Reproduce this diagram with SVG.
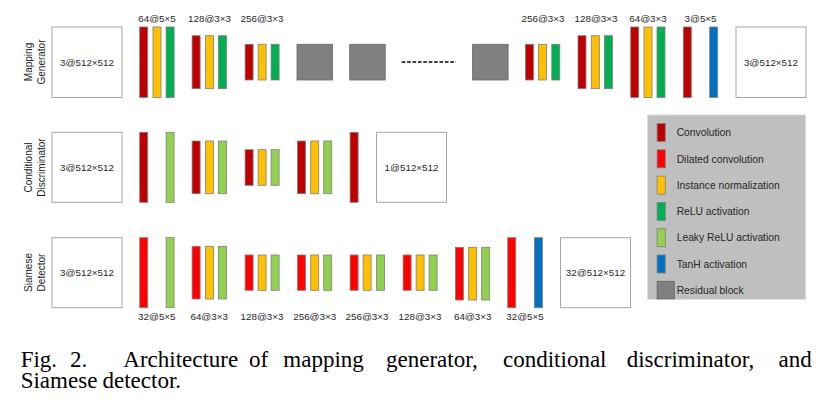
<svg xmlns="http://www.w3.org/2000/svg" width="826" height="403" viewBox="0 0 826 403">
<style>
text{font-family:"Liberation Sans",Arial,sans-serif;fill:#262626}
.lbl{font-size:9.8px;text-anchor:middle}
.row{font-size:10px;text-anchor:middle;fill:#1a1a1a}
.leg{font-size:10.3px}
.box{fill:#fff;stroke:#a6a6a6;stroke-width:1}
.b{stroke:#7f7f7f;stroke-width:0.8}
.cv{fill:#c00000}
.dc{fill:#ff0000}
.in{fill:#ffc000}
.re{fill:#00b050}
.lr{fill:#92d050}
.th{fill:#0070c0}
.rs{fill:#808080;stroke:#666;stroke-width:0.8}
.cap{font-family:"Liberation Serif","Times New Roman",serif;font-size:23px;fill:#000}
</style>

<!-- Row labels -->
<g id="row-mapping-generator">
<text class="row" transform="translate(32.3,62) rotate(-90)">Mapping</text>
<text class="row" transform="translate(45.2,62) rotate(-90)">Generator</text>
</g>
<g id="row-conditional-discriminator">
<text class="row" transform="translate(32.3,167.5) rotate(-90)">Conditional</text>
<text class="row" transform="translate(45.2,167.5) rotate(-90)">Discriminator</text>
</g>
<g id="row-siamese-detector">
<text class="row" transform="translate(32.3,272.5) rotate(-90)">Siamese</text>
<text class="row" transform="translate(45.2,272.5) rotate(-90)">Detector</text>
</g>

<!-- Mapping Generator -->
<g id="mg-input">
<rect class="box" x="52" y="27" width="70" height="70.5"/>
<text class="lbl" x="87" y="65.5">3@512×512</text>
</g>
<g id="mg-l1">
<rect class="b cv" x="139.7" y="27" width="8" height="70.5"/>
<rect class="b in" x="153" y="27" width="8" height="70.5"/>
<rect class="b re" x="166.1" y="27" width="8" height="70.5"/>
<text class="lbl" x="157" y="21.5">64@5×5</text>
</g>
<g id="mg-l2">
<rect class="b cv" x="192.1" y="35.7" width="8" height="53"/>
<rect class="b in" x="205.4" y="35.7" width="8" height="53"/>
<rect class="b re" x="218.4" y="35.7" width="8" height="53"/>
<text class="lbl" x="209.5" y="21.5">128@3×3</text>
</g>
<g id="mg-l3">
<rect class="b cv" x="245.1" y="44.3" width="8" height="35.7"/>
<rect class="b in" x="258.1" y="44.3" width="8" height="35.7"/>
<rect class="b re" x="271.1" y="44.3" width="8" height="35.7"/>
<text class="lbl" x="262" y="21.5">256@3×3</text>
</g>
<g id="mg-res1"><rect class="rs" x="297" y="44.3" width="35.5" height="35.7"/></g>
<g id="mg-res2"><rect class="rs" x="349.7" y="44.3" width="35.5" height="35.7"/></g>
<g id="mg-res3"><rect class="rs" x="472.6" y="44.3" width="35.5" height="35.7"/></g>
<g id="mg-l4">
<rect class="b cv" x="525.4" y="44.3" width="8" height="35.7"/>
<rect class="b in" x="538.6" y="44.3" width="8" height="35.7"/>
<rect class="b re" x="551.8" y="44.3" width="8" height="35.7"/>
<text class="lbl" x="543" y="21.5">256@3×3</text>
</g>
<g id="mg-l5">
<rect class="b cv" x="578" y="35.7" width="8" height="53"/>
<rect class="b in" x="591.3" y="35.7" width="8" height="53"/>
<rect class="b re" x="604.4" y="35.7" width="8" height="53"/>
<text class="lbl" x="596" y="21.5">128@3×3</text>
</g>
<g id="mg-l6">
<rect class="b cv" x="630.7" y="27" width="8" height="70.5"/>
<rect class="b in" x="644" y="27" width="8" height="70.5"/>
<rect class="b re" x="657" y="27" width="8" height="70.5"/>
<text class="lbl" x="648" y="21.5">64@3×3</text>
</g>
<g id="mg-l7">
<rect class="b cv" x="683.3" y="27" width="8" height="70.5"/>
<rect class="b th" x="709.7" y="27" width="8" height="70.5"/>
<text class="lbl" x="700.5" y="21.5">3@5×5</text>
</g>
<g id="mg-output">
<rect class="box" x="736" y="27" width="70" height="70.5"/>
<text class="lbl" x="771" y="65.5">3@512×512</text>
</g>

<!-- Conditional Discriminator -->
<g id="cd-input">
<rect class="box" x="52" y="132.3" width="70" height="70"/>
<text class="lbl" x="87" y="170.8">3@512×512</text>
</g>
<g id="cd-l1">
<rect class="b cv" x="139.7" y="132.3" width="8" height="70"/>
<rect class="b lr" x="166.1" y="132.3" width="8" height="70"/>
</g>
<g id="cd-l2">
<rect class="b cv" x="192.1" y="141" width="8" height="52.7"/>
<rect class="b in" x="205.4" y="141" width="8" height="52.7"/>
<rect class="b lr" x="218.4" y="141" width="8" height="52.7"/>
</g>
<g id="cd-l3">
<rect class="b cv" x="245.1" y="149.7" width="8" height="35.6"/>
<rect class="b in" x="258.1" y="149.7" width="8" height="35.6"/>
<rect class="b lr" x="271.1" y="149.7" width="8" height="35.6"/>
</g>
<g id="cd-l4">
<rect class="b cv" x="297.4" y="141" width="8" height="52.7"/>
<rect class="b in" x="310.7" y="141" width="8" height="52.7"/>
<rect class="b lr" x="323.7" y="141" width="8" height="52.7"/>
</g>
<g id="cd-l5">
<rect class="b cv" x="350.1" y="132.3" width="8" height="70"/>
</g>
<g id="cd-output">
<rect class="box" x="376.5" y="132.3" width="70" height="70"/>
<text class="lbl" x="411.5" y="170.8">1@512×512</text>
</g>

<!-- Siamese Detector -->
<g id="sd-input">
<rect class="box" x="52" y="237.7" width="70" height="70"/>
<text class="lbl" x="87" y="276.2">3@512×512</text>
</g>
<g id="sd-l1">
<rect class="b dc" x="139.7" y="237.7" width="8" height="70"/>
<rect class="b lr" x="166.1" y="237.7" width="8" height="70"/>
<text class="lbl" x="156.8" y="319.5">32@5×5</text>
</g>
<g id="sd-l2">
<rect class="b dc" x="192.1" y="246.3" width="8" height="52.7"/>
<rect class="b in" x="205.4" y="246.3" width="8" height="52.7"/>
<rect class="b lr" x="218.4" y="246.3" width="8" height="52.7"/>
<text class="lbl" x="209.2" y="319.5">64@3×3</text>
</g>
<g id="sd-l3">
<rect class="b dc" x="245.1" y="255" width="8" height="35.3"/>
<rect class="b in" x="258.1" y="255" width="8" height="35.3"/>
<rect class="b lr" x="271.1" y="255" width="8" height="35.3"/>
<text class="lbl" x="262" y="319.5">128@3×3</text>
</g>
<g id="sd-l4">
<rect class="b dc" x="297.4" y="255" width="8" height="35.3"/>
<rect class="b in" x="310.7" y="255" width="8" height="35.3"/>
<rect class="b lr" x="323.7" y="255" width="8" height="35.3"/>
<text class="lbl" x="314.7" y="319.5">256@3×3</text>
</g>
<g id="sd-l5">
<rect class="b dc" x="350.1" y="255" width="8" height="35.3"/>
<rect class="b in" x="363.1" y="255" width="8" height="35.3"/>
<rect class="b lr" x="376.4" y="255" width="8" height="35.3"/>
<text class="lbl" x="367" y="319.5">256@3×3</text>
</g>
<g id="sd-l6">
<rect class="b dc" x="403.1" y="255" width="8" height="35.3"/>
<rect class="b in" x="416.1" y="255" width="8" height="35.3"/>
<rect class="b lr" x="429.1" y="255" width="8" height="35.3"/>
<text class="lbl" x="420" y="319.5">128@3×3</text>
</g>
<g id="sd-l7">
<rect class="b dc" x="455.4" y="247.3" width="8" height="52.7"/>
<rect class="b in" x="468.7" y="247.3" width="8" height="52.7"/>
<rect class="b lr" x="481.7" y="247.3" width="8" height="52.7"/>
<text class="lbl" x="472.7" y="319.5">64@3×3</text>
</g>
<g id="sd-l8">
<rect class="b dc" x="507.7" y="237.7" width="8" height="70"/>
<rect class="b th" x="534.4" y="237.7" width="8" height="70"/>
<text class="lbl" x="525" y="319.5">32@5×5</text>
</g>
<g id="sd-output">
<rect class="box" x="560.5" y="237.7" width="70" height="70"/>
<text class="lbl" x="595.5" y="276.2">32@512×512</text>
</g>

<!-- Connectors (ellipsis between residual blocks) -->
<g id="connectors">
<line x1="401.7" y1="62" x2="456" y2="62" stroke="#000" stroke-width="1.6" stroke-dasharray="3.6,1.8"/>
</g>

<!-- Legend -->
<g id="legend">
<rect x="647.7" y="115" width="158" height="184.3" fill="#bfbfbf" stroke="#d9d9d9" stroke-width="0.8"/>
<rect class="b cv" x="657.1" y="123.5" width="8.2" height="18"/>
<text class="leg" x="676.7" y="136.2">Convolution</text>
<rect class="b dc" x="657.1" y="149.8" width="8.2" height="18"/>
<text class="leg" x="676.7" y="162.5">Dilated convolution</text>
<rect class="b in" x="657.1" y="176.1" width="8.2" height="18"/>
<text class="leg" x="676.7" y="188.8">Instance normalization</text>
<rect class="b re" x="657.1" y="202.4" width="8.2" height="18"/>
<text class="leg" x="676.7" y="215.1">ReLU activation</text>
<rect class="b lr" x="657.1" y="228.7" width="8.2" height="18"/>
<text class="leg" x="676.7" y="241.4">Leaky ReLU activation</text>
<rect class="b th" x="657.1" y="255" width="8.2" height="18"/>
<text class="leg" x="676.7" y="267.7">TanH activation</text>
<rect class="rs" x="657.1" y="281.3" width="17.2" height="17.6"/>
<text class="leg" x="676.7" y="294">Residual block</text>
</g>

<!-- Caption -->
<g id="caption">
<text class="cap" y="366.7"><tspan x="20.7">Fig. </tspan><tspan x="70">2. </tspan><tspan x="123.3">Architecture </tspan><tspan x="249">of </tspan><tspan x="283.3">mapping </tspan><tspan x="386">generator, </tspan><tspan x="503">conditional </tspan><tspan x="626.7">discriminator, </tspan><tspan x="778.5">and</tspan></text>
<text class="cap" y="388.3"><tspan x="20.7">Siamese </tspan><tspan x="102.5">detector.</tspan></text>
</g>
</svg>
